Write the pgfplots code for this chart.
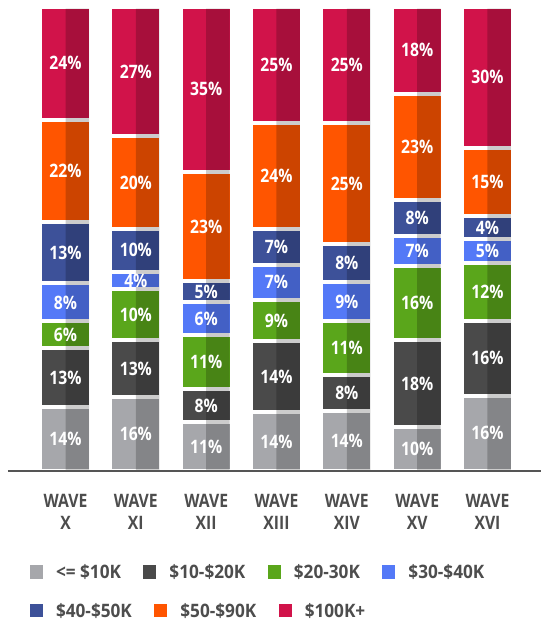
\documentclass[border=0pt]{standalone}
\usepackage{fontspec}
\setmainfont{Open Sans}[FakeStretch=0.85]
\newfontfamily\legendfamily{Open Sans}[FakeStretch=0.93]
\usepackage{pgfplots}
\pgfplotsset{compat=1.18}

\definecolor{cGray}{HTML}{A6A7AB}
\definecolor{cDark}{HTML}{4A4A4A}
\definecolor{cGreen}{HTML}{5AA61B}
\definecolor{cLBlue}{HTML}{5479F7}
\definecolor{cNavy}{HTML}{3D5199}
\definecolor{cOrange}{HTML}{FF5500}
\definecolor{cRed}{HTML}{D1134A}
\definecolor{cAxis}{HTML}{555555}
\definecolor{cText}{HTML}{4D4D4D}

\newcommand\chartfont{\fontsize{18.5}{22}\selectfont\bfseries}
\newcommand\legendfont{\legendfamily\fontsize{18.5}{22}\selectfont\bfseries}

% segment heights (% of each wave), bottom to top
\pgfplotstableread{
x  low   k1020 k2030 k3040 k4050 k5090 k100
0  13.7  12.8  5.7   8.2   13.3  21.9  24.4
1  15.9  12.3  10.9  3.8   9.3   19.9  27.9
2  10.6  7.0   11.7  7.0   4.6   23.5  35.6
3  12.7  15.2  9.0   7.5   7.8   22.8  25.0
4  12.9  7.8   11.5  8.6   8.0   26.2  25.0
5  9.4   18.8  15.9  6.5   7.8   22.9  18.7
6  16.2  16.2  12.3  5.2   5.1   14.6  30.4
}\waves

\pgfplotsset{
  base/.style={
    at={(8pt,150pt)}, anchor=south west,
    scale only axis, width=533pt, height=464.3pt,
    xmin=-0.8176, xmax=6.7609, ymin=0, ymax=100,
    legend image code/.code={\fill[##1,draw=none] (0pt,-6.5pt) rectangle (13pt,6.5pt);},
    legend style={draw=none, fill=none, inner sep=0pt, outer sep=0pt,
      anchor=west, legend columns=-1,
      font=\legendfont, text=cText,
      nodes={inner sep=0pt, anchor=west},
      /tikz/every odd column/.append style={column sep=13pt},
      /tikz/every even column/.append style={column sep=22.5pt}},
  },
  seg/.style={fill=#1, draw=white, line width=4pt},
}

\begin{document}
\begin{tikzpicture}
\useasboundingbox (0,0) rectangle (541pt,621pt);

\begin{axis}[ybar stacked, bar width=51pt,
  base, hide axis,
  legend style={at={(0.04128,-0.21753)}},
]
  \addplot[seg=cGray]   table[y=low]   {\waves};
  \addplot[seg=cDark]   table[y=k1020] {\waves};
  \addplot[seg=cGreen]  table[y=k2030] {\waves};
  \addplot[seg=cLBlue]  table[y=k3040] {\waves};
  \addplot[seg=cNavy]   table[y=k4050] {\waves};
  \addplot[seg=cOrange] table[y=k5090] {\waves};
  \addplot[seg=cRed]    table[y=k100]  {\waves};
  \legend{<= \$10K, \$10-\$20K, \$20-30K, \$30-\$40K}
\end{axis}

\begin{axis}[base, axis on top,
  axis x line*=bottom, axis y line=none,
  x axis line style={-, line width=2.7pt, draw=cAxis},
  xtick={0,...,6},
  xticklabels={{WAVE\\X},{WAVE\\XI},{WAVE\\XII},{WAVE\\XIII},{WAVE\\XIV},{WAVE\\XV},{WAVE\\XVI}},
  major tick length=0pt,
  xticklabel style={align=center, font=\chartfont, text=cText, inner sep=0pt, anchor=north, yshift=-23.5pt},
  legend style={at={(0.04128,-0.3015)}},
]
  % darker right half of every bar
  \addplot[ybar, forget plot, bar width=23.5pt, bar shift=11.75pt,
    fill=black, fill opacity=0.2, draw=none]
    coordinates {(0,99.57) (1,99.57) (2,99.57) (3,99.57) (4,99.57) (5,99.57) (6,99.57)};
  % percentage labels at the middle of each segment
  \addplot[draw=none, mark=none, forget plot,
    nodes near coords={\pgfplotspointmeta\%},
    nodes near coords align=center,
    point meta=explicit symbolic,
    every node near coord/.style={anchor=center, inner sep=0pt, text=white, font=\chartfont}]
    coordinates {
      (0,6.85)[14] (0,20.1)[13] (0,29.35)[6] (0,36.3)[8] (0,47.05)[13] (0,64.65)[22] (0,87.8)[24]
      (1,7.95)[16] (1,22.05)[13] (1,33.65)[10] (1,41.0)[4] (1,47.55)[10] (1,62.15)[20] (1,86.05)[27]
      (2,5.3)[11] (2,14.1)[8] (2,23.45)[11] (2,32.8)[6] (2,38.6)[5] (2,52.65)[23] (2,82.2)[35]
      (3,6.35)[14] (3,20.3)[14] (3,32.4)[9] (3,40.65)[7] (3,48.3)[7] (3,63.6)[24] (3,87.5)[25]
      (4,6.45)[14] (4,16.8)[8] (4,26.45)[11] (4,36.5)[9] (4,44.8)[8] (4,61.9)[25] (4,87.5)[25]
      (5,4.7)[10] (5,18.8)[18] (5,36.15)[16] (5,47.35)[7] (5,54.5)[8] (5,69.85)[23] (5,90.65)[18]
      (6,8.1)[16] (6,24.3)[16] (6,38.55)[12] (6,47.3)[5] (6,52.45)[4] (6,62.3)[15] (6,84.8)[30]
    };
  \addlegendimage{fill=cNavy}
  \addlegendimage{fill=cOrange}
  \addlegendimage{fill=cRed}
  \legend{\$40-\$50K, \$50-\$90K, \$100K+}
\end{axis}
\end{tikzpicture}
\end{document}
